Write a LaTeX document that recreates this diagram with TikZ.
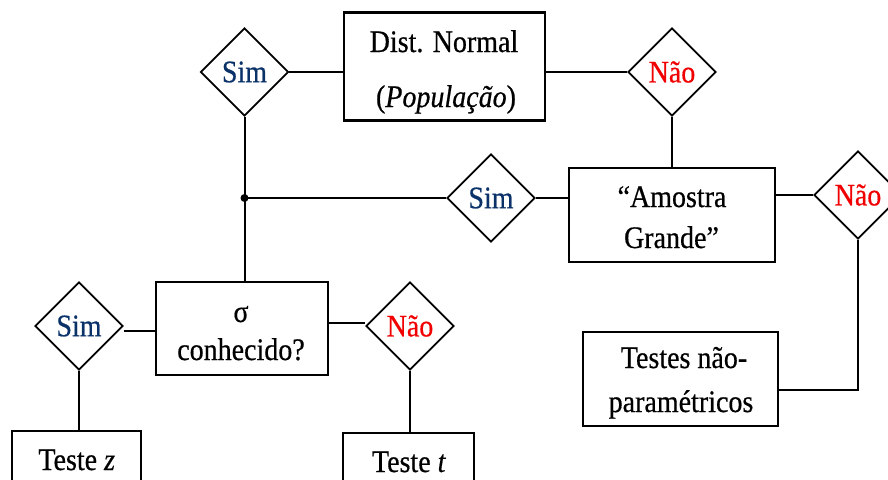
\documentclass[tikz,border=0pt]{standalone}
\usepackage{graphicx}
\usepackage{fontspec}
\setmainfont{Liberation Serif}[FakeBold=0.6]
\usetikzlibrary{shapes.geometric}
\definecolor{simblue}{RGB}{10,50,105}
\definecolor{naored}{RGB}{240,0,0}
% slightly tall lettering
\newcommand{\tallword}[1]{\scalebox{1}[1.12]{#1}}
\begin{document}
\begin{tikzpicture}[x=1pt,y=-1pt,
  every node/.style={font=\fontsize{28}{34}\selectfont, inner sep=0pt},
  box/.style={draw, line width=2.4pt, rectangle},
  line/.style={anchor=base},
  choice/.style={draw, line width=1.8pt, diamond, minimum width=88pt, minimum height=88pt},
  yes/.style={choice, text=simblue},
  no/.style={choice, text=naored},
  link/.style={line width=2pt}]
\useasboundingbox (0,0) rectangle (888,479);
\clip (0,0) rectangle (888,479);

% boxes
\node[box, minimum width=201pt, minimum height=108pt] (dist) at (444.5,66.5) {};
\node[box, minimum width=206pt, minimum height=94pt] (amostra) at (672,215) {};
\node[box, minimum width=172pt, minimum height=93pt] (sigma) at (242,328.5) {};
\node[box, minimum width=195pt, minimum height=94pt] (testes) at (680.5,379) {};
\node[box, minimum width=129pt, minimum height=62pt] (tz) at (76.5,462) {};
\node[box, minimum width=131pt, minimum height=58pt] (tt) at (408.5,462) {};

% box lettering, one line per node (placed on its baseline)
\node[line] (dist-1) at (444,52) {\tallword{Dist. Normal}};
\node[line] (dist-2) at (446,107) {\tallword{(\textit{População})}};
\node[line] (amostra-1) at (672,207) {\tallword{“Amostra}};
\node[line] (amostra-2) at (671.5,248) {\tallword{Grande”}};
\node[line] (sigma-1) at (241,322) {\tallword{σ}};
\node[line] (sigma-2) at (241,360) {\tallword{conhecido?}};
\node[line] (testes-1) at (684,368) {\tallword{Testes não-}};
\node[line] (testes-2) at (681,412) {\tallword{paramétricos}};
\node[line] (tz-1) at (76.7,470) {\tallword{Teste \textit{z}}};
\node[line] (tt-1) at (409,472) {\tallword{Teste \textit{t}}};

% answers
\node[yes] (simA) at (244.5,72) {\tallword{Sim}};
\node[no]  (naoA) at (672,72) {\tallword{Não}};
\node[yes] (simB) at (491,198) {\tallword{Sim}};
\node[no]  (naoB) at (858,195) {\tallword{Não}};
\node[yes] (simC) at (79,326) {\tallword{Sim}};
\node[no]  (naoC) at (410,326) {\tallword{Não}};

% junction on the left branch
\coordinate (junc) at (simA.south |- simB.west);
\fill (junc) circle (4pt);

% connectors
\draw[link] (simA.east) -- (simA.east -| dist.west);
\draw[link] (naoA.west) -- (naoA.west -| dist.east);
\draw[link] (naoA.south) -- (naoA.south |- amostra.north);
\draw[link] (simA.south) -- (simA.south |- sigma.north);
\draw[link] (simB.west) -- (junc);
\draw[link] (simB.east) -- (simB.east -| amostra.west);
\draw[link] (naoB.west) -- (naoB.west -| amostra.east);
\draw[link] (naoB.south) |- ([yshift=-11pt]testes.east);
\draw[link] ([yshift=-5pt]simC.east) -- ([yshift=-5pt]simC.east -| sigma.west);
\draw[link] ([yshift=3pt]naoC.west) -- ([yshift=3pt]naoC.west -| sigma.east);
\draw[link] (simC.south) -- (simC.south |- tz.north);
\draw[link] (naoC.south) -- (naoC.south |- tt.north);
\end{tikzpicture}
\end{document}
